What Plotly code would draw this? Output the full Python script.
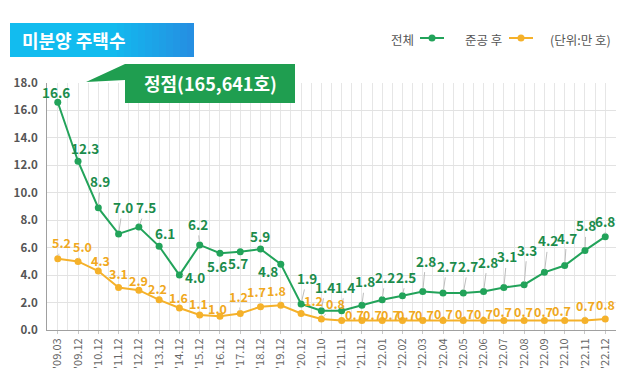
import plotly.graph_objects as go

# ---------------- data ----------------
categories = ["'09.03", "'09.12", "'10.12", "'11.12", "'12.12", "'13.12", "'14.12",
              "'15.12", "'16.12", "'17.12", "'18.12", "'19.12", "'20.12", "'21.10",
              "'21.11", "'21.12", "'22.01", "'22.02", "'22.03", "'22.04", "'22.05",
              "'22.06", "'22.07", "'22.08", "'22.09", "'22.10", "'22.11", "'22.12"]
total = [16.6, 12.3, 8.9, 7.0, 7.5, 6.1, 4.0, 6.2, 5.6, 5.7, 5.9, 4.8, 1.9, 1.4,
         1.4, 1.8, 2.2, 2.5, 2.8, 2.7, 2.7, 2.8, 3.1, 3.3, 4.2, 4.7, 5.8, 6.8]
completed = [5.2, 5.0, 4.3, 3.1, 2.9, 2.2, 1.6, 1.1, 1.0, 1.2, 1.7, 1.8, 1.2, 0.8,
             0.7, 0.7, 0.7, 0.7, 0.7, 0.7, 0.7, 0.7, 0.7, 0.7, 0.7, 0.7, 0.7, 0.8]
y_ticks = [0, 2, 4, 6, 8, 10, 12, 14, 16, 18]

# label offsets (pixels) - styling only
total_off = [(-2, -10), (7, -13), (2, -27), (4, -27), (7, -20), (6, -13), (16, 2),
             (-2, -21), (-3, 13), (-2, 11), (-1, -13), (-13, 7), (6, -26), (4, -24),
             (3, -24), (3, -24), (3, -23), (4, -19), (3, -31), (4, -27), (5, -27),
             (4, -30), (3, -31), (3, -35), (4, -32), (2, -28), (1, -25), (0, -16)]
comp_off = [(4, -16), (4, -15), (2, -10), (0, -14), (0, -10), (-2, -11), (-1, -11),
            (-1, -11), (-2, -8), (-2, -17), (-4, -15), (-4, -15), (12, -13), (14, -16),
            (13, -6), (11, -6), (8, -6), (4, -6), (2, -6), (0, -7), (1, -7), (0, -7),
            (-1, -9), (-1, -9), (-1, -9), (-3, -10), (1, -15), (0, -15)]

GREEN = "#22a35a"
GREEN_TXT = "#1b8c4c"
YELLOW = "#f5b12a"
YELLOW_TXT = "#f0a820"
FONT = "Noto Sans CJK KR"

W, H = 640, 378
L, R, T, B = 47, 24, 83, 48
PW, PH = W - L - R, H - T - B


def px(xp):
    return (xp - L) / PW


def py(yp):
    return (H - B - yp) / PH


xs = list(range(len(categories)))

fig = go.Figure()
fig.add_trace(go.Scatter(x=xs, y=completed, mode="lines+markers", name="준공 후",
                         line=dict(color=YELLOW, width=2),
                         marker=dict(color=YELLOW, size=7), showlegend=False,
                         cliponaxis=False, hoverinfo="skip"))
fig.add_trace(go.Scatter(x=xs, y=total, mode="lines+markers", name="전체",
                         line=dict(color=GREEN, width=2),
                         marker=dict(color=GREEN, size=7), showlegend=False,
                         cliponaxis=False, hoverinfo="skip"))

annotations = []
for i, v in enumerate(total):
    dx, dy = total_off[i]
    annotations.append(dict(x=i, y=v, xref="x", yref="y", text=f"{v:.1f}",
                            showarrow=True, arrowhead=0, arrowwidth=1,
                            arrowcolor="#bdbdbd", ax=dx, ay=dy, standoff=3,
                            font=dict(family=FONT, size=13.5, color=GREEN_TXT, weight="bold")))
for i, v in enumerate(completed):
    dx, dy = comp_off[i]
    annotations.append(dict(x=i, y=v, xref="x", yref="y", text=f"{v:.1f}",
                            showarrow=True, arrowhead=0, arrowwidth=1,
                            arrowcolor="#cfcfcf", ax=dx, ay=dy, standoff=3,
                            font=dict(family=FONT, size=12.5, color=YELLOW_TXT, weight="bold")))

# title and callout texts
annotations.append(dict(x=px(20), y=py(40), xref="paper", yref="paper", xanchor="left",
                        yanchor="middle", text="미분양 주택수", showarrow=False,
                        font=dict(family=FONT, size=18, color="white", weight="bold")))
annotations.append(dict(x=px(210), y=py(83), xref="paper", yref="paper", xanchor="center",
                        yanchor="middle", text="정점(165,641호)", showarrow=False,
                        font=dict(family=FONT, size=18, color="white", weight="bold")))
# legend texts
leg_font = dict(family=FONT, size=12.5, color="#555555")
annotations.append(dict(x=px(416), y=py(39), xref="paper", yref="paper", xanchor="right",
                        yanchor="middle", text="전체", showarrow=False, font=leg_font))
annotations.append(dict(x=px(504), y=py(39), xref="paper", yref="paper", xanchor="right",
                        yanchor="middle", text="준공 후", showarrow=False, font=leg_font))
annotations.append(dict(x=px(548), y=py(39), xref="paper", yref="paper", xanchor="left",
                        yanchor="middle", text="(단위:만 호)", showarrow=False, font=leg_font))

shapes = []
# title box with simple gradient
x0, x1, y0, y1 = 10, 194, 23, 57
shapes.append(dict(type="rect", xref="paper", yref="paper", x0=px(x0), x1=px(x1),
                   y0=py(y1), y1=py(y0), fillcolor="#12bcef", line=dict(width=0),
                   layer="above"))
c0 = (18, 188, 239)
c1 = (38, 142, 226)
n = 12
start = 110
for k in range(n):
    a = start + (x1 - start) * k / n
    b = start + (x1 - start) * (k + 1) / n
    t = (k + 0.5) / n
    col = tuple(int(c0[j] + (c1[j] - c0[j]) * t) for j in range(3))
    shapes.append(dict(type="rect", xref="paper", yref="paper", x0=px(a), x1=px(b),
                       y0=py(y1), y1=py(y0), fillcolor="rgb(%d,%d,%d)" % col,
                       line=dict(width=0), layer="above"))
# callout box with pointer
bx0, bx1, by0, by1 = 125, 295, 64, 103
path = "M {} {} L {} {} L {} {} L {} {} L {} {} L {} {} Z".format(
    px(bx0), py(by0), px(bx1), py(by0), px(bx1), py(by1), px(bx0), py(by1),
    px(bx0), py(80), px(86), py(82))
shapes.append(dict(type="path", xref="paper", yref="paper", path=path,
                   fillcolor="#1f9e50", line=dict(width=0), layer="above"))
# legend symbols
for (lx0, lx1, col) in [(420, 444, GREEN), (509, 533, YELLOW)]:
    shapes.append(dict(type="line", xref="paper", yref="paper", x0=px(lx0), x1=px(lx1),
                       y0=py(38), y1=py(38), line=dict(color=col, width=2)))
    cx = (lx0 + lx1) / 2
    shapes.append(dict(type="circle", xref="paper", yref="paper", x0=px(cx - 3.5),
                       x1=px(cx + 3.5), y0=py(41.5), y1=py(34.5), fillcolor=col,
                       line=dict(width=0)))

fig.update_layout(
    width=W, height=H,
    margin=dict(l=L, r=R, t=T, b=B, pad=0, autoexpand=False),
    paper_bgcolor="white", plot_bgcolor="white",
    annotations=annotations, shapes=shapes,
    showlegend=False, hovermode=False,
    xaxis=dict(range=[-0.53, 27.53], tickmode="array", tickvals=xs, ticktext=categories,
               tickangle=-90, showgrid=True, gridcolor="#e6e6e6", gridwidth=1,
               showline=True, linecolor="#a0a0a0", linewidth=1, zeroline=False,
               automargin=False,
               ticks="outside", ticklen=3, tickcolor="#c8c8c8",
               tickfont=dict(family=FONT, size=11, color="#666666"),
               minor=dict(tickmode="linear", tick0=0.5, dtick=1, showgrid=True,
                          gridcolor="#e6e6e6", gridwidth=1)),
    yaxis=dict(range=[0, 18], tickmode="array", tickvals=y_ticks,
               ticktext=[f"{v:.1f}" for v in y_ticks],
               showgrid=True, gridcolor="#e2e2e2", gridwidth=1,
               showline=True, linecolor="#a0a0a0", linewidth=1, zeroline=False,
               automargin=False,
               ticks="", ticklabelstandoff=6,
               tickfont=dict(family=FONT, size=11.5, color="#555555", weight="bold")),
)

fig.write_html("out.html", config={"displayModeBar": False, "staticPlot": True},
               post_script="document.body.style.margin='0';document.body.style.overflow='hidden';")
